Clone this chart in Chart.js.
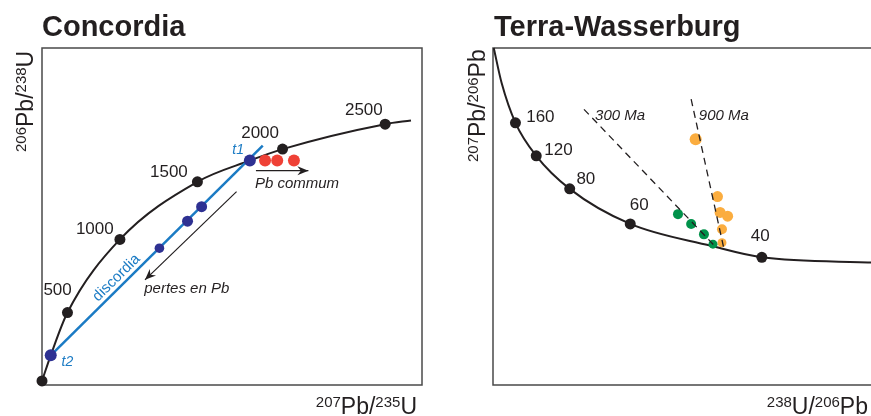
<!DOCTYPE html>
<html>
<head>
<meta charset="utf-8">
<script src="https://cdn.jsdelivr.net/npm/chart.js@4.4.1/dist/chart.umd.min.js"></script>
<style>
    html, body { margin: 0; padding: 0; background: #fff; overflow: hidden; width: 871px; height: 416px; }
    #concordia { position: absolute; left: 0; top: 0; }
    #terra { position: absolute; left: 435px; top: 0; }
</style>
</head>
<body>
<canvas id="concordia" width="435" height="416" style="width:435px;height:416px"></canvas>
<canvas id="terra" width="440" height="416" style="width:440px;height:416px"></canvas>
<script>
// Both panels are schematic: axes run 0-100 in arbitrary units

// Concordia
const concAges = ['0', '500', '1000', '1500', '2000', '2500'];
const concX = [0, 6.7, 20.5, 40.9, 63.3, 90.3];
const concY = [1.2, 21.5, 43.2, 60.3, 70.0, 77.4];
const concCurveX = [0, 2.3, 6.7, 20.5, 40.9, 54.7, 63.3, 90.3, 97.1];
const concCurveY = [1.2, 8.8, 21.5, 43.2, 60.3, 66.6, 70.0, 77.4, 78.5];
const discordiaX = [2.3, 58.1];
const discordiaY = [8.8, 71.0];
const zirconX = [2.3, 30.9, 38.3, 42.0, 54.7];
const zirconY = [8.8, 40.6, 48.6, 52.9, 66.6];
const commonPbX = [58.7, 61.9, 66.3];
const commonPbY = [66.6, 66.6, 66.6];
const pbArrowX = [56.3, 70.1];
const pbArrowY = [63.6, 63.6];
const lossArrowX = [51.2, 27.1];
const lossArrowY = [57.4, 31.2];

// Terra-Wasserburg
const twAges = ['160', '120', '80', '60', '40'];
const twX = [5.97, 11.5, 20.4, 36.5, 71.5];
const twY = [77.8, 68.0, 58.2, 47.8, 37.9];
const twCurveX = [0.2, 2.3, 5.97, 11.5, 20.4, 36.5, 58.0, 71.5, 102];
const twCurveY = [100, 89.6, 77.8, 68.0, 58.2, 47.8, 41.3, 37.9, 36.3];
const line300X = [24.2, 58.6];
const line300Y = [81.8, 41.7];
const line900X = [52.7, 61.3];
const line900Y = [84.8, 41.0];
const greenX = [49.2, 52.7, 56.1, 58.5];
const greenY = [50.7, 47.8, 44.7, 41.8];
const orangeX = [53.9, 59.7, 60.4, 62.4, 60.9, 60.9];
const orangeY = [72.9, 55.9, 51.2, 50.1, 46.2, 42.2];

const FONT = '"Liberation Sans", Arial, sans-serif';
const INK = '#231f20';
const BLUE = '#1b7bc4';

function pts(xs, ys) {
    return xs.map((x, i) => ({ x: x, y: ys[i] }));
}

function drawRich(ctx, parts, x, y, align) {
    let w = 0;
    parts.forEach(p => {
        ctx.font = (p.sup ? '15px ' : '23px ') + FONT;
        w += ctx.measureText(p.t).width;
    });
    let cx = align === 'right' ? x - w : x;
    ctx.textAlign = 'left';
    ctx.textBaseline = 'alphabetic';
    parts.forEach(p => {
        ctx.font = (p.sup ? '15px ' : '23px ') + FONT;
        ctx.fillText(p.t, cx, y - (p.sup ? 7.5 : 0));
        cx += ctx.measureText(p.t).width;
    });
}

function arrowHead(ctx, x1, y1, x2, y2) {
    const a = Math.atan2(y2 - y1, x2 - x1);
    ctx.save();
    ctx.translate(x2, y2);
    ctx.rotate(a);
    ctx.beginPath();
    ctx.moveTo(0, 0);
    ctx.lineTo(-11, -4.5);
    ctx.lineTo(-7.5, 0);
    ctx.lineTo(-11, 4.5);
    ctx.closePath();
    ctx.fillStyle = INK;
    ctx.fill();
    ctx.restore();
}

// border, titles, axis titles, in-plot notes and arrow heads
const decor = {
    id: 'decor',
    beforeDatasetsDraw(chart, args, opts) {
        const a = chart.chartArea;
        const ctx = chart.ctx;
        ctx.save();
        ctx.strokeStyle = '#4a4a4a';
        ctx.lineWidth = 1.5;
        if (opts.openRight) {
            // right side runs off the picture
            ctx.beginPath();
            ctx.moveTo(chart.width, a.top);
            ctx.lineTo(a.left, a.top);
            ctx.lineTo(a.left, a.bottom);
            ctx.lineTo(chart.width, a.bottom);
            ctx.stroke();
        } else {
            ctx.strokeRect(a.left, a.top, a.right - a.left, a.bottom - a.top);
        }
        ctx.restore();
    },
    afterDatasetsDraw(chart, args, opts) {
        const ctx = chart.ctx;
        const sx = chart.scales.x, sy = chart.scales.y;
        ctx.save();
        ctx.fillStyle = INK;

        // title
        ctx.font = 'bold 29px ' + FONT;
        ctx.textAlign = 'left';
        ctx.textBaseline = 'alphabetic';
        ctx.fillText(opts.title, opts.titlePos[0], opts.titlePos[1]);

        // axis titles
        drawRich(ctx, opts.xTitle, opts.xTitlePos[0], opts.xTitlePos[1], 'right');
        ctx.save();
        ctx.translate(opts.yTitlePos[0], opts.yTitlePos[1]);
        ctx.rotate(-Math.PI / 2);
        drawRich(ctx, opts.yTitle, 0, 0, 'left');
        ctx.restore();

        // notes
        opts.notes.forEach(n => {
            ctx.save();
            ctx.font = n.font + ' ' + FONT;
            ctx.fillStyle = n.color || INK;
            ctx.textAlign = 'center';
            ctx.textBaseline = 'middle';
            const px = sx.getPixelForValue(n.x), py = sy.getPixelForValue(n.y);
            ctx.translate(px, py);
            if (n.alongDataset !== undefined) {
                const d = chart.getDatasetMeta(n.alongDataset).data;
                ctx.rotate(Math.atan2(d[1].y - d[0].y, d[1].x - d[0].x));
            }
            ctx.fillText(n.text, 0, 0);
            ctx.restore();
        });

        // arrow heads on datasets flagged as arrows
        chart.data.datasets.forEach((ds, i) => {
            if (!ds.arrow) return;
            const d = chart.getDatasetMeta(i).data;
            const p = d[d.length - 2], q = d[d.length - 1];
            arrowHead(ctx, p.x, p.y, q.x, q.y);
        });
        ctx.restore();
    }
};

function baseOptions(padding, decorOpts) {
    return {
        responsive: false,
        animation: false,
        devicePixelRatio: 1,
        events: [],
        layout: { padding: padding },
        plugins: {
            legend: { display: false },
            tooltip: { enabled: false },
            decor: decorOpts
        },
        scales: {
            x: { type: 'linear', min: 0, max: 100, display: false },
            y: { type: 'linear', min: 0, max: 100, display: false }
        }
    };
}

function lineSet(xs, ys, color, width, extra) {
    return Object.assign({
        data: pts(xs, ys),
        showLine: true,
        borderColor: color,
        borderWidth: width,
        pointRadius: 0,
        clip: false
    }, extra || {});
}

function dotSet(xs, ys, color, radius, extra) {
    return Object.assign({
        data: pts(xs, ys),
        showLine: false,
        backgroundColor: color,
        borderWidth: 0,
        pointRadius: radius,
        clip: false
    }, extra || {});
}

// Concordia chart
new Chart(document.getElementById('concordia'), {
    type: 'scatter',
    data: {
        datasets: [
            lineSet(discordiaX, discordiaY, BLUE, 2.5, { order: 8 }),
            lineSet(concCurveX, concCurveY, INK, 2, { cubicInterpolationMode: 'monotone', order: 9 }),
            dotSet(concX, concY, INK, 5.5, { order: 2 }),
            dotSet(zirconX, zirconY, '#2e3192', [6, 4.8, 5.5, 5.5, 6], { order: 1 }),
            dotSet(commonPbX, commonPbY, '#ef4136', 6, { order: 1 }),
            lineSet(pbArrowX, pbArrowY, INK, 1.2, { arrow: true, order: 3 }),
            lineSet(lossArrowX, lossArrowY, INK, 1.2, { arrow: true, order: 3 })
        ]
    },
    options: baseOptions({ left: 42, top: 48, right: 13, bottom: 31 }, {
        title: 'Concordia',
        titlePos: [42, 36],
        xTitle: [{ t: '207', sup: true }, { t: 'Pb/' }, { t: '235', sup: true }, { t: 'U' }],
        xTitlePos: [417, 414],
        yTitle: [{ t: '206', sup: true }, { t: 'Pb/' }, { t: '238', sup: true }, { t: 'U' }],
        yTitlePos: [33, 152],
        notes: [
            { text: concAges[1], x: 4.1, y: 28.0, font: '17px' },
            { text: concAges[2], x: 13.9, y: 46.3, font: '17px' },
            { text: concAges[3], x: 33.4, y: 63.2, font: '17px' },
            { text: concAges[4], x: 57.4, y: 74.8, font: '17px' },
            { text: concAges[5], x: 84.7, y: 81.6, font: '17px' },
            { text: 't1', x: 51.6, y: 69.6, font: 'italic 14px', color: BLUE },
            { text: 't2', x: 6.7, y: 6.8, font: 'italic 14px', color: BLUE },
            { text: 'Pb commum', x: 67.1, y: 59.6, font: 'italic 15px' },
            { text: 'pertes en Pb', x: 38.1, y: 28.5, font: 'italic 15px' },
            { text: 'discordia', x: 19.6, y: 31.8, font: '15px', color: BLUE, alongDataset: 0 }
        ]
    }),
    plugins: [decor]
});

// Terra-Wasserburg chart
new Chart(document.getElementById('terra'), {
    type: 'scatter',
    data: {
        datasets: [
            lineSet(line300X, line300Y, INK, 1.3, { borderDash: [7, 5], order: 0 }),
            lineSet(line900X, line900Y, INK, 1.3, { borderDash: [7, 5], order: 0 }),
            lineSet(twCurveX, twCurveY, INK, 2, { cubicInterpolationMode: 'monotone', order: 9 }),
            dotSet(twX, twY, INK, 5.5, { order: 2 }),
            dotSet(greenX, greenY, '#00924a', [5, 5, 5, 4.5], { order: 1 }),
            dotSet(orangeX, orangeY, '#fbad3f', [6, 5.5, 5.5, 5.5, 5, 4.5], { order: 1 })
        ]
    },
    options: baseOptions({ left: 58, top: 48, right: 2, bottom: 31 }, {
        title: 'Terra-Wasserburg',
        titlePos: [59, 36],
        openRight: true,
        xTitle: [{ t: '238', sup: true }, { t: 'U/' }, { t: '206', sup: true }, { t: 'Pb' }],
        xTitlePos: [433, 414],
        yTitle: [{ t: '207', sup: true }, { t: 'Pb/' }, { t: '206', sup: true }, { t: 'Pb' }],
        yTitlePos: [50, 162],
        notes: [
            { text: twAges[0], x: 12.6, y: 79.5, font: '17px' },
            { text: twAges[1], x: 17.4, y: 69.7, font: '17px' },
            { text: twAges[2], x: 24.7, y: 61.0, font: '17px' },
            { text: twAges[3], x: 38.9, y: 53.4, font: '17px' },
            { text: twAges[4], x: 71.05, y: 44.1, font: '17px' },
            { text: '300 Ma', x: 33.8, y: 79.8, font: 'italic 15px' },
            { text: '900 Ma', x: 61.4, y: 79.8, font: 'italic 15px' }
        ]
    }),
    plugins: [decor]
});
</script>
</body>
</html>
